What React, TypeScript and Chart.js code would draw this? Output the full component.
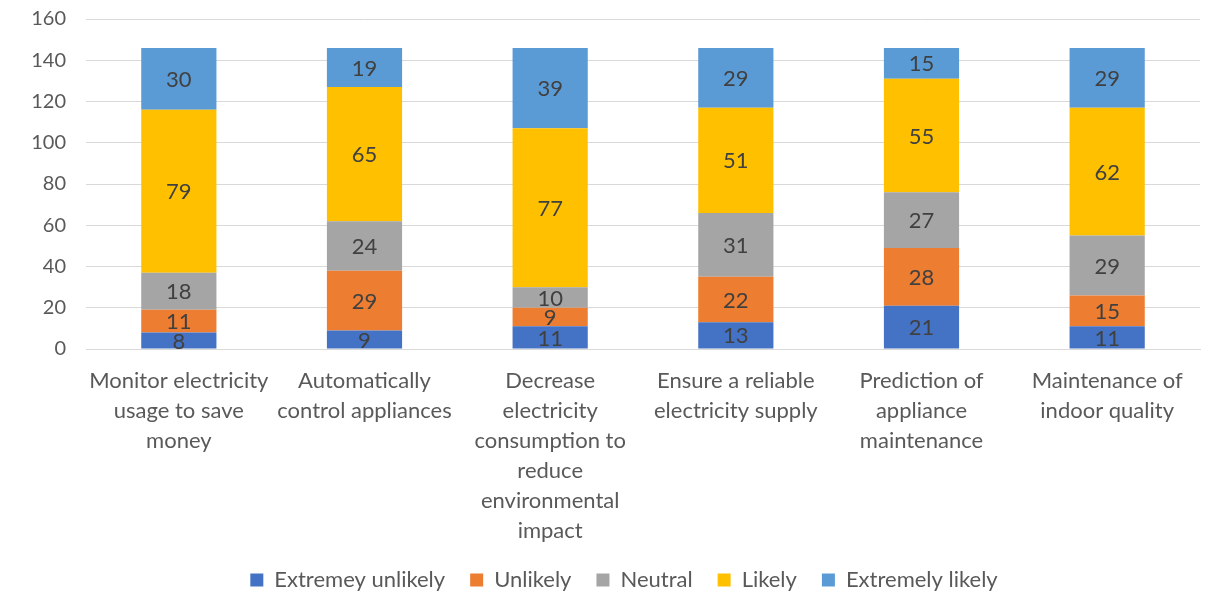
import React, { useEffect, useRef } from "react";
import { Chart, registerables } from "chart.js";

Chart.register(...registerables);

const categories: string[][] = [
  ["Monitor electricity", "usage to save", "money"],
  ["Automatically", "control appliances"],
  ["Decrease", "electricity", "consumption to", "reduce", "environmental", "impact"],
  ["Ensure a reliable", "electricity supply"],
  ["Prediction of", "appliance", "maintenance"],
  ["Maintenance of", "indoor quality"],
];

const seriesNames = ["Extremey unlikely", "Unlikely", "Neutral", "Likely", "Extremely likely"];
const extremelyUnlikely = [8, 9, 11, 13, 21, 11];
const unlikely = [11, 29, 9, 22, 28, 15];
const neutral = [18, 24, 10, 31, 27, 29];
const likely = [79, 65, 77, 51, 55, 62];
const extremelyLikely = [30, 19, 39, 29, 15, 29];
const seriesColors = ["#4472C4", "#ED7D31", "#A5A5A5", "#FFC000", "#5B9BD5"];

const FONT = "Lato, 'Liberation Sans', sans-serif";

const valueLabels = {
  id: "valueLabels",
  afterDatasetsDraw(chart: any) {
    const ctx = chart.ctx;
    ctx.save();
    ctx.font = `22px ${FONT}`;
    ctx.fillStyle = "#404040";
    ctx.textAlign = "center";
    ctx.textBaseline = "middle";
    chart.data.datasets.forEach((ds: any, i: number) => {
      const meta = chart.getDatasetMeta(i);
      meta.data.forEach((el: any, j: number) => {
        const y = (el.y + el.base) / 2;
        ctx.fillText(String(ds.data[j]), el.x, y + 1);
      });
    });
    ctx.restore();
  },
};

const shiftLegend = {
  id: "shiftLegend",
  afterLayout(chart: any) {
    if (chart.legend) {
      chart.legend.left += 24;
      chart.legend.right += 24;
    }
  },
};

export default function App() {
  const ref = useRef<HTMLCanvasElement | null>(null);
  useEffect(() => {
    if (!ref.current) return;
    const all = [extremelyUnlikely, unlikely, neutral, likely, extremelyLikely];
    const chart = new Chart(ref.current, {
      type: "bar",
      data: {
        labels: categories,
        datasets: all.map((d, i) => ({
          label: seriesNames[i],
          data: d,
          backgroundColor: seriesColors[i],
          borderWidth: 0,
          categoryPercentage: 1,
          barPercentage: 0.405,
        })),
      },
      options: {
        animation: false,
        responsive: false,
        maintainAspectRatio: false,
        layout: { padding: { top: 19, right: 14, left: 0, bottom: 0 } },
        plugins: {
          legend: {
            position: "bottom",
            labels: {
              font: { family: FONT, size: 22 },
              color: "#595959",
              boxWidth: 13,
              boxHeight: 13,
              padding: 25,
            },
          },
          tooltip: { enabled: false },
        },
        scales: {
          x: {
            stacked: true,
            grid: { display: false },
            border: { display: true, color: "#D9D9D9" },
            ticks: {
              font: { family: FONT, size: 22, lineHeight: 30 / 22 },
              color: "#595959",
              maxRotation: 0,
              autoSkip: false,
              padding: 9,
            },
            afterFit: (s: any) => {
              s.height = 195;
              s.paddingTop = 0;
              s.paddingBottom = 0;
            },
          },
          y: {
            stacked: true,
            min: 0,
            max: 160,
            grid: { color: "#D9D9D9", drawTicks: false },
            border: { display: false },
            ticks: {
              stepSize: 20,
              font: { family: FONT, size: 20 },
              color: "#595959",
              padding: 20,
            },
            afterFit: (s: any) => {
              s.width = 86;
              s.paddingTop = 0;
              s.paddingBottom = 0;
            },
          },
        },
      },
      plugins: [valueLabels, shiftLegend],
    });
    return () => chart.destroy();
  }, []);
  return (
    <div style={{ position: "fixed", left: 0, top: 0, width: 1214, height: 594, overflow: "hidden", background: "#fff" }}>
      <canvas ref={ref} width={1214} height={601} style={{ display: "block" }} />
    </div>
  );
}
